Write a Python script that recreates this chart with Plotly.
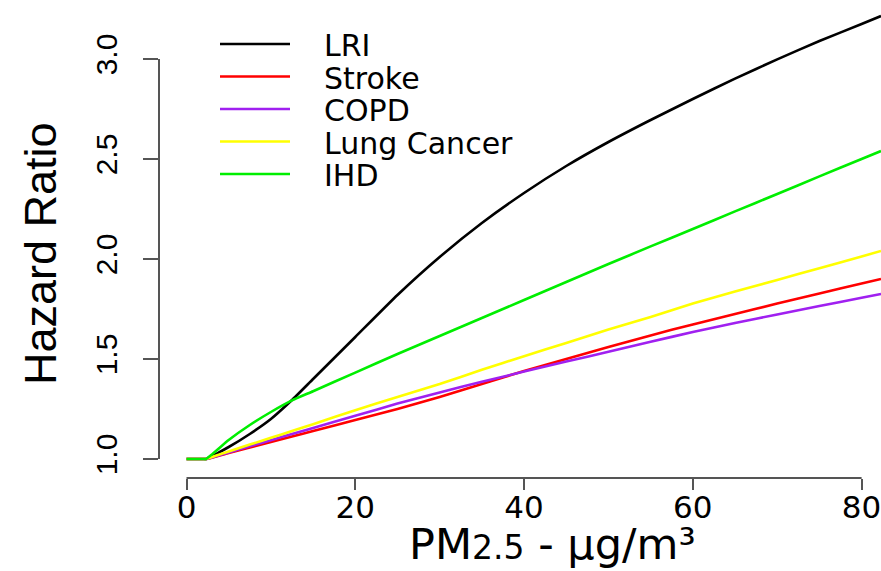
import plotly.graph_objects as go

# ---- data ----
pm25 = [0, 2.0, 2.3, 5, 7.5, 10, 12.5, 15, 20, 25, 30, 35, 40, 45, 50, 55, 60, 65, 70, 75, 80, 82.3]
series_names = ["LRI", "Stroke", "COPD", "Lung Cancer", "IHD"]
lri = [1.0, 1.0, 1.0, 1.06, 1.125, 1.20, 1.295, 1.40, 1.61, 1.82, 2.01, 2.18, 2.33, 2.465, 2.585,
       2.695, 2.80, 2.902, 2.998, 3.09, 3.175, 3.215]
stroke = [1.0, 1.0, 1.0, 1.03, 1.058, 1.085, 1.112, 1.14, 1.195, 1.25, 1.31, 1.375, 1.44, 1.50, 1.56,
          1.618, 1.673, 1.725, 1.777, 1.828, 1.877, 1.90]
copd = [1.0, 1.0, 1.0, 1.033, 1.064, 1.094, 1.125, 1.155, 1.216, 1.277, 1.333, 1.386, 1.437, 1.487,
        1.536, 1.586, 1.635, 1.68, 1.723, 1.765, 1.806, 1.825]
lung_cancer = [1.0, 1.0, 1.0, 1.038, 1.072, 1.106, 1.14, 1.174, 1.244, 1.31, 1.375, 1.446, 1.514, 1.58,
               1.647, 1.71, 1.777, 1.837, 1.895, 1.954, 2.013, 2.04]
ihd = [1.0, 1.0, 1.0, 1.095, 1.17, 1.235, 1.293, 1.339, 1.432, 1.525, 1.615, 1.705, 1.795, 1.885,
       1.975, 2.063, 2.15, 2.238, 2.325, 2.413, 2.50, 2.54]
x_ticks = [0, 20, 40, 60, 80]
y_ticks = [1.0, 1.5, 2.0, 2.5, 3.0]
y_tick_labels = ["1.0", "1.5", "2.0", "2.5", "3.0"]

series_values = [lri, stroke, copd, lung_cancer, ihd]
colors = ["#000000", "#FF0000", "#A020F0", "#FFFF00", "#00EE00"]

# ---- layout constants (pixels) ----
W, H = 881, 571
ML, MR, MT, MB = 159, 0, 0, 93
PW, PH = W - ML - MR, H - MT - MB

HORIZ_FONT = "DejaVu Sans, Liberation Sans, Arial, sans-serif"
ROT_FONT = "Liberation Sans, Arial, sans-serif"


def px_to_paper_x(px):
    return (px - ML) / PW


def px_to_paper_y(py):
    return (H - MB - py) / PH


fig = go.Figure()
for name, vals, col in zip(series_names, series_values, colors):
    fig.add_trace(go.Scatter(x=pm25, y=vals, mode="lines", name=name,
                             line=dict(color=col, width=2.6, shape="spline", smoothing=0.5),
                             showlegend=False))

axis_col = "#555555"
shapes = [
    # y axis line spanning the tick range only
    dict(type="line", xref="paper", yref="y", x0=0, x1=0, y0=y_ticks[0], y1=y_ticks[-1],
         line=dict(color=axis_col, width=2)),
    # x axis line spanning the tick range only
    dict(type="line", xref="x", yref="paper", x0=x_ticks[0], x1=x_ticks[-1], y0=0, y1=0,
         line=dict(color=axis_col, width=2)),
]

annotations = []
# manual legend
leg_top, leg_step = 44, 32.5
for i, (name, col) in enumerate(zip(series_names, colors)):
    py = leg_top + i * leg_step
    shapes.append(dict(type="line", xref="paper", yref="paper",
                       x0=px_to_paper_x(220), x1=px_to_paper_x(290),
                       y0=px_to_paper_y(py), y1=px_to_paper_y(py),
                       line=dict(color=col, width=2.6)))
    annotations.append(dict(text=name, xref="paper", yref="paper",
                            x=px_to_paper_x(322), y=px_to_paper_y(py + 2),
                            xanchor="left", yanchor="middle", showarrow=False,
                            font=dict(family=HORIZ_FONT, size=30, color="black")))

# axis titles
annotations.append(dict(
    text='PM<span style="font-size:33px">2.5</span> - μg/m³',
    xref="paper", yref="paper", x=px_to_paper_x(552), y=px_to_paper_y(544),
    xanchor="center", yanchor="middle", showarrow=False,
    font=dict(family=HORIZ_FONT, size=43, color="black")))
annotations.append(dict(
    text="Hazard Ratio", textangle=-90,
    xref="paper", yref="paper", x=px_to_paper_x(40), y=px_to_paper_y(254),
    xanchor="center", yanchor="middle", showarrow=False,
    font=dict(family=ROT_FONT, size=45, color="black")))

fig.update_layout(
    width=W, height=H,
    margin=dict(l=ML, r=MR, t=MT, b=MB, pad=0),
    paper_bgcolor="white", plot_bgcolor="white",
    shapes=shapes, annotations=annotations,
    xaxis=dict(range=[-3.26, 82.3], showgrid=False, zeroline=False, showline=False,
               tickmode="array", tickvals=x_ticks, ticktext=[str(v) for v in x_ticks],
               ticks="outside", ticklen=11, tickwidth=2, tickcolor=axis_col,
               ticklabeloverflow="allow", ticklabelstandoff=-9,
               tickfont=dict(family=HORIZ_FONT, size=31, color="black")),
    yaxis=dict(range=[0.905, 3.295], showgrid=False, zeroline=False, showline=False,
               tickmode="array", tickvals=y_ticks, ticktext=y_tick_labels,
               ticks="outside", ticklen=15, tickwidth=2, tickcolor=axis_col, tickangle=-90,
               ticklabelstandoff=14,
               tickfont=dict(family=ROT_FONT, size=30, color="black")),
)

fig.write_html("out.html")
